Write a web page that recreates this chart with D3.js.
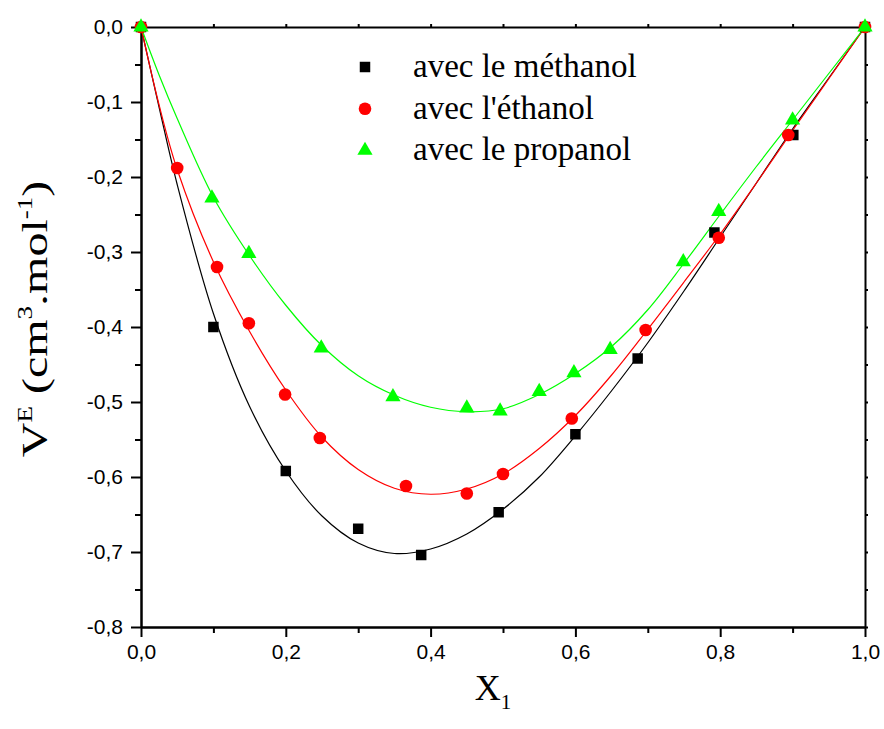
<!DOCTYPE html>
<html>
<head>
<meta charset="utf-8">
<script src="https://cdn.jsdelivr.net/npm/d3@7"></script>
<style>
  html, body { margin: 0; padding: 0; background: #fff; }
  svg { display: block; }
</style>
</head>
<body>
<svg id="chart" width="884" height="729"></svg>
<script>
// Excess molar volume V^E versus mole fraction X1, three alcohol mixtures.

// Measured points
const methanolX = [0, 0.1, 0.2, 0.3, 0.387, 0.494, 0.6, 0.686, 0.792, 0.901, 1];
const methanolY = [0, -0.400, -0.592, -0.669, -0.704, -0.647, -0.543, -0.442, -0.274, -0.144, 0];

const ethanolX = [0, 0.05, 0.105, 0.149, 0.199, 0.247, 0.366, 0.45, 0.5, 0.595, 0.697, 0.798, 0.894, 1];
const ethanolY = [0, -0.188, -0.320, -0.395, -0.490, -0.548, -0.612, -0.622, -0.596, -0.522, -0.404, -0.281, -0.144, 0];

const propanolX = [0, 0.098, 0.149, 0.249, 0.348, 0.45, 0.496, 0.55, 0.598, 0.648, 0.749, 0.798, 0.9, 1];
const propanolY = [0, -0.228, -0.302, -0.428, -0.493, -0.508, -0.512, -0.486, -0.461, -0.430, -0.313, -0.246, -0.124, 0];

// Fitted curves, sampled along X1
const fitX = [0, 0.025, 0.05, 0.1, 0.15, 0.2, 0.25, 0.3, 0.35, 0.4, 0.45, 0.5, 0.55, 0.6, 0.65, 0.7, 0.75, 0.8, 0.85, 0.9, 0.95, 1];
const methanolFit = [0, -0.107, -0.210, -0.382, -0.506, -0.592, -0.652, -0.688, -0.702, -0.696, -0.676, -0.643, -0.600, -0.545, -0.485, -0.421, -0.352, -0.280, -0.208, -0.136, -0.068, 0];
const ethanolFit  = [0, -0.104, -0.190, -0.313, -0.406, -0.484, -0.547, -0.590, -0.615, -0.623, -0.616, -0.596, -0.562, -0.518, -0.464, -0.403, -0.340, -0.276, -0.208, -0.138, -0.069, 0];
const propanolFit = [0, -0.064, -0.122, -0.227, -0.305, -0.371, -0.425, -0.465, -0.491, -0.507, -0.513, -0.509, -0.490, -0.462, -0.426, -0.377, -0.315, -0.250, -0.186, -0.124, -0.062, 0];

// Axis ticks
const xMajorTicks = [0, 0.2, 0.4, 0.6, 0.8, 1.0];
const xMinorTicks = [0.1, 0.3, 0.5, 0.7, 0.9];
const yMajorTicks = [0, -0.1, -0.2, -0.3, -0.4, -0.5, -0.6, -0.7, -0.8];
const yMinorTicks = [-0.05, -0.15, -0.25, -0.35, -0.45, -0.55, -0.65, -0.75];

const seriesNames = ["avec le méthanol", "avec l'éthanol", "avec le propanol"];
const seriesColors = ["#000000", "#ff0000", "#00ff00"];

const series = [
  { name: seriesNames[0], color: seriesColors[0], shape: "square",   xs: methanolX, ys: methanolY, fit: methanolFit },
  { name: seriesNames[1], color: seriesColors[1], shape: "circle",   xs: ethanolX,  ys: ethanolY,  fit: ethanolFit },
  { name: seriesNames[2], color: seriesColors[2], shape: "triangle", xs: propanolX, ys: propanolY, fit: propanolFit }
];

const svg = d3.select("#chart");
const plotLeft = 141, plotRight = 865, plotTop = 27, plotBottom = 627;

const x = d3.scaleLinear().domain([0, 1]).range([plotLeft, plotRight]);
const y = d3.scaleLinear().domain([-0.8, 0]).range([plotBottom, plotTop]);

const fmt = d => d3.format(".1f")(d).replace(".", ",").replace("−", "-");
const sans = "'Liberation Sans', Arial, sans-serif";
const serif = "'Liberation Serif', 'Times New Roman', serif";

// Axes
function styleAxis(g) {
  g.select(".domain").attr("stroke", "#000").attr("stroke-width", 2);
  g.selectAll(".tick line").attr("stroke", "#000").attr("stroke-width", 2);
  g.selectAll(".tick text").attr("fill", "#000")
    .style("font-family", sans).style("font-size", "21px");
}

// minor ticks
svg.append("g").attr("transform", `translate(0,${plotBottom})`)
  .call(d3.axisBottom(x).tickValues(xMinorTicks).tickSize(6).tickFormat("").tickSizeOuter(0))
  .call(styleAxis);
svg.append("g").attr("transform", `translate(${plotLeft},0)`)
  .call(d3.axisLeft(y).tickValues(yMinorTicks).tickSize(6).tickFormat("").tickSizeOuter(0))
  .call(styleAxis);

// major ticks with labels
svg.append("g").attr("transform", `translate(0,${plotBottom})`)
  .call(d3.axisBottom(x).tickValues(xMajorTicks).tickSize(10).tickPadding(7).tickFormat(fmt).tickSizeOuter(0))
  .call(styleAxis);
svg.append("g").attr("transform", `translate(${plotLeft},0)`)
  .call(d3.axisLeft(y).tickValues(yMajorTicks).tickSize(10).tickPadding(8).tickFormat(fmt).tickSizeOuter(0))
  .call(styleAxis);

// mirrored top and right axes, short outward ticks, no labels
svg.append("g").attr("transform", `translate(0,${plotTop})`)
  .call(d3.axisTop(x).tickValues(xMajorTicks.concat(xMinorTicks)).tickSize(3).tickFormat("").tickSizeOuter(0))
  .call(styleAxis);
svg.append("g").attr("transform", `translate(${plotRight},0)`)
  .call(d3.axisRight(y).tickValues(yMajorTicks.concat(yMinorTicks)).tickSize(3).tickFormat("").tickSizeOuter(0))
  .call(styleAxis);

// Fitted curves
const line = d3.line()
  .x((d, i) => x(fitX[i]))
  .y(d => y(d))
  .curve(d3.curveCatmullRom.alpha(0.5));

const plot = svg.append("g");
series.forEach(s => {
  plot.append("path")
    .attr("d", line(s.fit))
    .attr("fill", "none")
    .attr("stroke", s.color)
    .attr("stroke-width", 1.2);
});

// Markers
const symbolFor = {
  square: d3.symbol().type(d3.symbolSquare).size(110),
  circle: d3.symbol().type(d3.symbolCircle).size(125),
  triangle: d3.symbol().type(d3.symbolTriangle).size(100)
};

series.forEach(s => {
  plot.append("g").selectAll("path")
    .data(s.xs.map((xv, i) => [xv, s.ys[i]]))
    .join("path")
    .attr("transform", d => `translate(${x(d[0])},${y(d[1])})`)
    .attr("d", symbolFor[s.shape]())
    .attr("fill", s.color);
});

// Legend
const legend = svg.append("g").attr("transform", "translate(365,67)");
series.forEach((s, i) => {
  const row = legend.append("g").attr("transform", `translate(0,${i * 41.7})`);
  row.append("path").attr("d", symbolFor[s.shape]()).attr("fill", s.color);
  row.append("text")
    .attr("x", 48).attr("y", 10)
    .style("font-family", serif)
    .style("font-size", "33px")
    .attr("fill", "#000")
    .text(s.name);
});

// Axis titles
const xt = svg.append("text")
  .attr("x", 493).attr("y", 700)
  .attr("text-anchor", "middle")
  .style("font-family", serif).style("font-size", "36px").attr("fill", "#000");
xt.append("tspan").text("X");
xt.append("tspan").attr("dy", 9).style("font-size", "21px").text("1");

const yt = svg.append("text")
  .attr("transform", "translate(47,319) rotate(-90) scale(1,0.76)")
  .attr("text-anchor", "middle")
  .style("font-family", serif).style("font-size", "48px").attr("fill", "#000");
yt.append("tspan").text("V");
yt.append("tspan").attr("dy", -20).style("font-size", "27px").text("E");
yt.append("tspan").attr("dy", 20).text(" (cm");
yt.append("tspan").attr("dy", -20).style("font-size", "27px").text("3");
yt.append("tspan").attr("dy", 20).text(".mol");
yt.append("tspan").attr("dy", -20).style("font-size", "27px").text("-1");
yt.append("tspan").attr("dy", 20).text(")");
</script>
</body>
</html>
